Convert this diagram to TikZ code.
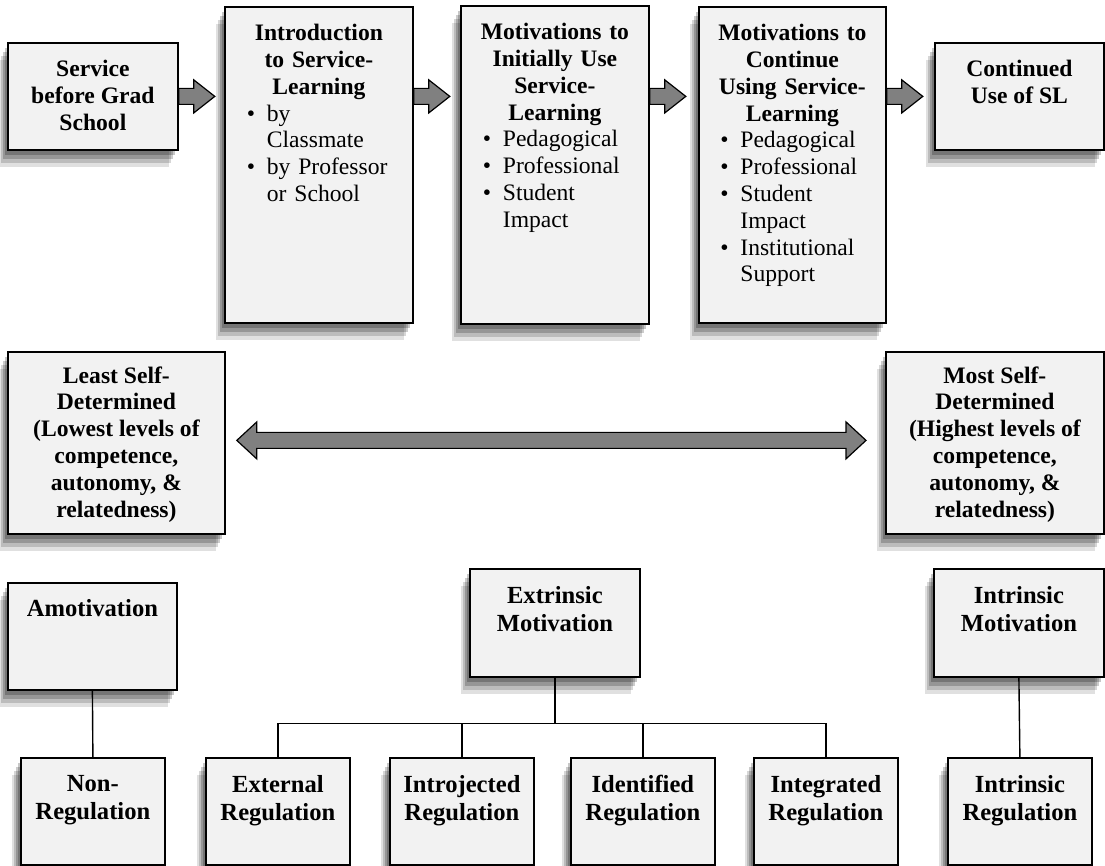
\documentclass[tikz,border=0pt]{standalone}
\usepackage{fontspec}
\setmainfont{Liberation Serif}
\usepackage{xcolor}
\usepackage{tikz}
\usetikzlibrary{calc,shadows}

\definecolor{boxfill}{RGB}{242,242,242}
\definecolor{arrowgray}{RGB}{128,128,128}

% bullet line with hanging indent
\newcommand{\bitem}[1]{\par\noindent\hangindent=13pt\hangafter=1\hspace*{3pt}\makebox[10pt][l]{\textbullet}#1\par}
% fat grey arrow starting at a point
\newcommand{\fatarrow}[1]{\draw[blockarrow] (#1) ++(0,-8) -- ++(15,0) -- ++(0,-8.5) -- ++(21,16.5) -- ++(-21,16.5) -- ++(0,-8.5) -- ++(-15,0) -- cycle;}

\begin{document}
\begin{tikzpicture}[x=0.5pt, y=-0.5pt,
    softshadow/.style={
        general shadow={fill=black, opacity=0.22, shadow xshift=-1.5pt, shadow yshift=-2.5pt},
        general shadow={fill=black, opacity=0.2, shadow xshift=-2.5pt, shadow yshift=-4.5pt},
        general shadow={fill=black, opacity=0.16, shadow xshift=-3.5pt, shadow yshift=-6.5pt},
        general shadow={fill=black, opacity=0.12, shadow xshift=-4.5pt, shadow yshift=-8.5pt}},
    box/.style={draw=black, line width=0.9pt, fill=boxfill, inner sep=0pt, anchor=north west, softshadow},
    txt/.style={anchor=north, inner sep=0pt, align=center, font=\fontsize{11.8}{13.4}\selectfont\bfseries},
    bigtxt/.style={anchor=north, inner sep=0pt, align=center, font=\fontsize{12.3}{14}\selectfont\bfseries},
    listtxt/.style={anchor=north, inner sep=0pt, text width=78pt, font=\fontsize{11.8}{13.4}\selectfont},
    blockarrow/.style={draw=black, line width=0.6pt, fill=arrowgray},
    link/.style={draw=black, line width=0.7pt}]
    \useasboundingbox (0,0) rectangle (1105,866);

    % Top row: path to continued use
    \node[box, minimum width=85pt, minimum height=53.5pt] (svc) at (7,42) {};
    \node[box, minimum width=94pt, minimum height=158pt] (intro) at (224,6) {};
    \node[box, minimum width=94pt, minimum height=159pt] (initial) at (460,5) {};
    \node[box, minimum width=93.5pt, minimum height=158pt] (cont) at (698,6) {};
    \node[box, minimum width=84.5pt, minimum height=53.5pt] (usesl) at (934,42) {};

    \node[txt] (svctxt) at ($(svc.north)+(0,18)$) {Service\\before Grad\\School};
    \node[listtxt] (introtxt) at ($(intro.north)+(0,18)$) {%
        {\centering\bfseries Introduction\\to Service-\\Learning\par}
        \bitem{by\newline Classmate}
        \bitem{by Professor\newline or School}};
    \node[listtxt] (initialtxt) at ($(initial.north)+(0,18)$) {%
        {\centering\bfseries Motivations to\\Initially Use\\Service-\\Learning\par}
        \bitem{Pedagogical}
        \bitem{Professional}
        \bitem{Student\newline Impact}};
    \node[listtxt] (conttxt) at ($(cont.north)+(0,18)$) {%
        {\centering\bfseries Motivations to\\Continue\\Using Service-\\Learning\par}
        \bitem{Pedagogical}
        \bitem{Professional}
        \bitem{Student\newline Impact}
        \bitem{Institutional\newline Support}};
    \node[txt] (usesltxt) at ($(usesl.north)+(0,18)$) {Continued\\Use of SL};

    % Arrows between steps
    \fatarrow{svc.east}
    \fatarrow{intro.east |- svc.east}
    \fatarrow{initial.east |- svc.east}
    \fatarrow{cont.east |- svc.east}

    % Middle row: self-determination range
    \node[box, minimum width=108.5pt, minimum height=91pt] (least) at (7,351) {};
    \node[box, minimum width=109pt, minimum height=91pt] (most) at (885,351) {};
    \node[txt] (leasttxt) at ($(least.north)+(0,15)$) {Least Self-\\Determined\\(Lowest levels of\\competence,\\autonomy, \&\\relatedness)};
    \node[txt] (mosttxt) at ($(most.north)+(0,15)$) {Most Self-\\Determined\\(Highest levels of\\competence,\\autonomy, \&\\relatedness)};

    \path (least.east) ++(11,-2.5) coordinate (dl);
    \path (most.west) ++(-19,-2.5) coordinate (dr);
    \draw[blockarrow] (dl) -- ++(20,-18.5) -- ++(0,10.5) -- ($(dr)+(-20,-8)$) -- ++(0,-10.5) -- (dr)
        -- ++(-20,18.5) -- ++(0,-10.5) -- ($(dl)+(20,8)$) -- ++(0,10.5) -- cycle;

    % Bottom row: motivation types
    \node[box, minimum width=84.5pt, minimum height=53.5pt] (amot) at (7,582) {};
    \node[box, minimum width=85pt, minimum height=54pt] (extr) at (469,568) {};
    \node[box, minimum width=85pt, minimum height=54pt] (intrm) at (933,568) {};
    \node[bigtxt] (amottxt) at ($(amot.north)+(0,17)$) {Amotivation};
    \node[bigtxt] (extrtxt) at ($(extr.north)+(0,18)$) {Extrinsic\\Motivation};
    \node[bigtxt] (intrmtxt) at ($(intrm.north)+(0,18)$) {Intrinsic\\Motivation};

    % Regulation styles
    \node[box, minimum width=72pt, minimum height=53.5pt] (nonreg) at (20,757) {};
    \node[box, minimum width=72pt, minimum height=53.5pt] (ext) at (205,757) {};
    \node[box, minimum width=72pt, minimum height=53.5pt] (introj) at (389,757) {};
    \node[box, minimum width=72pt, minimum height=53.5pt] (ident) at (570,757) {};
    \node[box, minimum width=72pt, minimum height=53.5pt] (integ) at (753,757) {};
    \node[box, minimum width=72pt, minimum height=53.5pt] (intrreg) at (947,757) {};
    \node[bigtxt] (nonregtxt) at ($(nonreg.north)+(0,18)$) {Non-\\Regulation};
    \node[bigtxt] (exttxt) at ($(ext.north)+(0,18)$) {External\\Regulation};
    \node[bigtxt] (introjtxt) at ($(introj.north)+(0,18)$) {Introjected\\Regulation};
    \node[bigtxt] (identtxt) at ($(ident.north)+(0,18)$) {Identified\\Regulation};
    \node[bigtxt] (integtxt) at ($(integ.north)+(0,18)$) {Integrated\\Regulation};
    \node[bigtxt] (intrregtxt) at ($(intrreg.north)+(0,18)$) {Intrinsic\\Regulation};

    % Tree lines
    \draw[link] (amot.south) -- (nonreg.north);
    \draw[link] (extr.south) -- ++(0,46) coordinate (bus);
    \draw[link] (ext.north) |- (bus) -| (integ.north);
    \draw[link] (introj.north) -- (introj.north |- bus);
    \draw[link] (ident.north) -- (ident.north |- bus);
    \draw[link] (intrm.south) -- (intrreg.north);
\end{tikzpicture}
\end{document}
